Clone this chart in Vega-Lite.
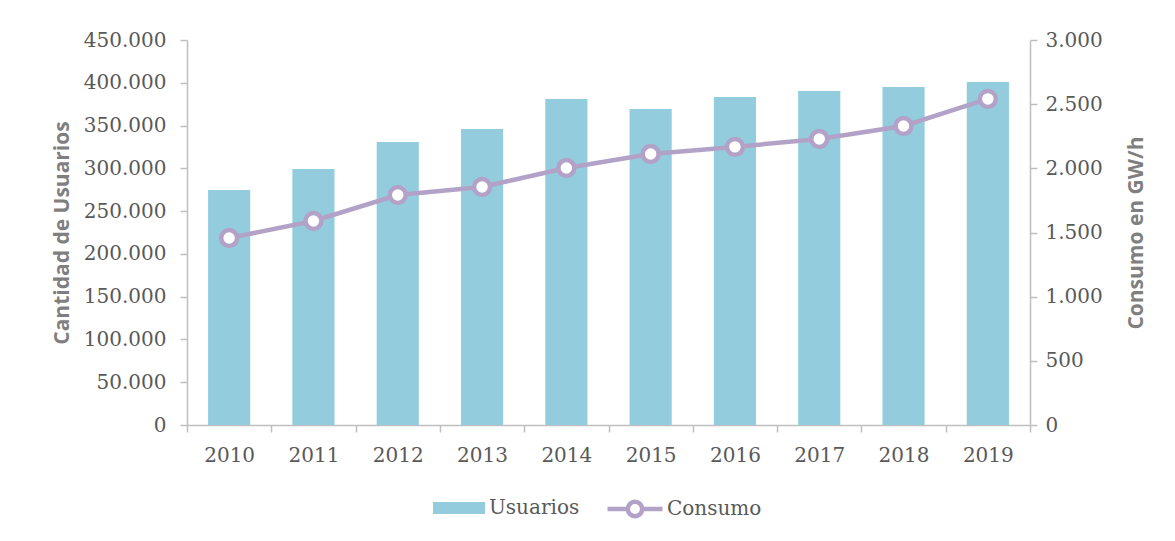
{
  "$schema": "https://vega.github.io/schema/vega-lite/v6.json",
  "width": 843,
  "height": 385,
  "autosize": "none",
  "padding": {"left": 187, "top": 40, "right": 145, "bottom": 116},
  "background": "white",
  "config": {
    "locale": {"number": {"decimal": ",", "thousands": ".", "grouping": [3], "currency": ["$", ""]}},
    "view": {"stroke": null},
    "axis": {
      "labelFont": "DejaVu Serif",
      "labelFontSize": 20,
      "labelColor": "#595959",
      "domainColor": "#BFBFBF",
      "tickColor": "#BFBFBF",
      "domainWidth": 1.5,
      "tickWidth": 1.5,
      "tickSize": 7,
      "grid": false,
      "titleFont": "Open Sans",
      "titleFontWeight": "bold",
      "titleFontSize": 21,
      "titleColor": "#7F7F7F"
    },
    "legend": {
      "labelFont": "DejaVu Serif",
      "labelFontSize": 20,
      "labelColor": "#595959"
    }
  },
  "data": {
    "values": [
      {"year": "2010", "Usuarios": 274700, "Consumo": 1457},
      {"year": "2011", "Usuarios": 299200, "Consumo": 1590},
      {"year": "2012", "Usuarios": 330800, "Consumo": 1792},
      {"year": "2013", "Usuarios": 346000, "Consumo": 1855},
      {"year": "2014", "Usuarios": 381000, "Consumo": 2003},
      {"year": "2015", "Usuarios": 369300, "Consumo": 2112},
      {"year": "2016", "Usuarios": 383400, "Consumo": 2167},
      {"year": "2017", "Usuarios": 390400, "Consumo": 2229},
      {"year": "2018", "Usuarios": 395000, "Consumo": 2330},
      {"year": "2019", "Usuarios": 400900, "Consumo": 2541}
    ]
  },
  "encoding": {
    "x": {
      "field": "year",
      "type": "nominal",
      "scale": {"paddingInner": 0, "paddingOuter": 0},
      "axis": {"title": null, "labelAngle": 0, "labelPadding": 13, "tickBand": "extent"}
    }
  },
  "layer": [
    {
      "mark": {"type": "bar", "width": {"band": 0.5}},
      "encoding": {
        "y": {
          "field": "Usuarios",
          "type": "quantitative",
          "scale": {"domain": [0, 450000], "nice": false},
          "axis": {"title": "Cantidad de Usuarios", "format": ",d", "values": [0, 50000, 100000, 150000, 200000, 250000, 300000, 350000, 400000, 450000], "labelPadding": 14, "titlePadding": 11}
        },
        "fill": {
          "datum": "Usuarios",
          "type": "nominal",
          "scale": {"range": ["#93CDDD"]},
          "legend": {
            "title": null,
            "orient": "none",
            "legendX": 246,
            "legendY": 442,
            "symbolType": "M-1,-0.23H1V0.23H-1Z",
            "symbolSize": 2704,
            "symbolStrokeWidth": 0,
            "labelOffset": 4
          }
        }
      }
    },
    {
      "layer": [
        {
          "mark": {"type": "line", "strokeWidth": 4.5},
          "encoding": {
            "y": {"field": "Consumo", "type": "quantitative"},
            "stroke": {"datum": "Consumo", "type": "nominal"}
          }
        },
        {
          "mark": {"type": "point", "shape": "circle", "filled": false, "fill": "white", "fillOpacity": 1, "opacity": 1, "strokeWidth": 4.5, "size": 254},
          "encoding": {
            "y": {
              "field": "Consumo",
              "type": "quantitative",
              "scale": {"domain": [0, 3000], "nice": false},
              "axis": {"title": "Consumo en GW/h", "orient": "right", "titleAngle": 270, "format": ",d", "values": [0, 500, 1000, 1500, 2000, 2500, 3000], "labelPadding": 8, "titlePadding": 44}
            },
            "stroke": {
              "datum": "Consumo",
              "type": "nominal",
              "scale": {"range": ["#B3A2C7"]},
              "legend": {
                "title": null,
                "orient": "none",
                "legendX": 418,
                "legendY": 439,
                "symbolType": "M-1,0H-0.26M0.26,0H1M-0.26,0A0.26,0.26,0,1,0,0.26,0A0.26,0.26,0,1,0,-0.26,0",
                "symbolSize": 3025,
                "symbolStrokeWidth": 4.5,
                "symbolFillColor": "white",
                "labelOffset": 2
              }
            }
          }
        }
      ]
    }
  ],
  "resolve": {"scale": {"y": "independent", "fill": "independent", "stroke": "independent"}}
}
